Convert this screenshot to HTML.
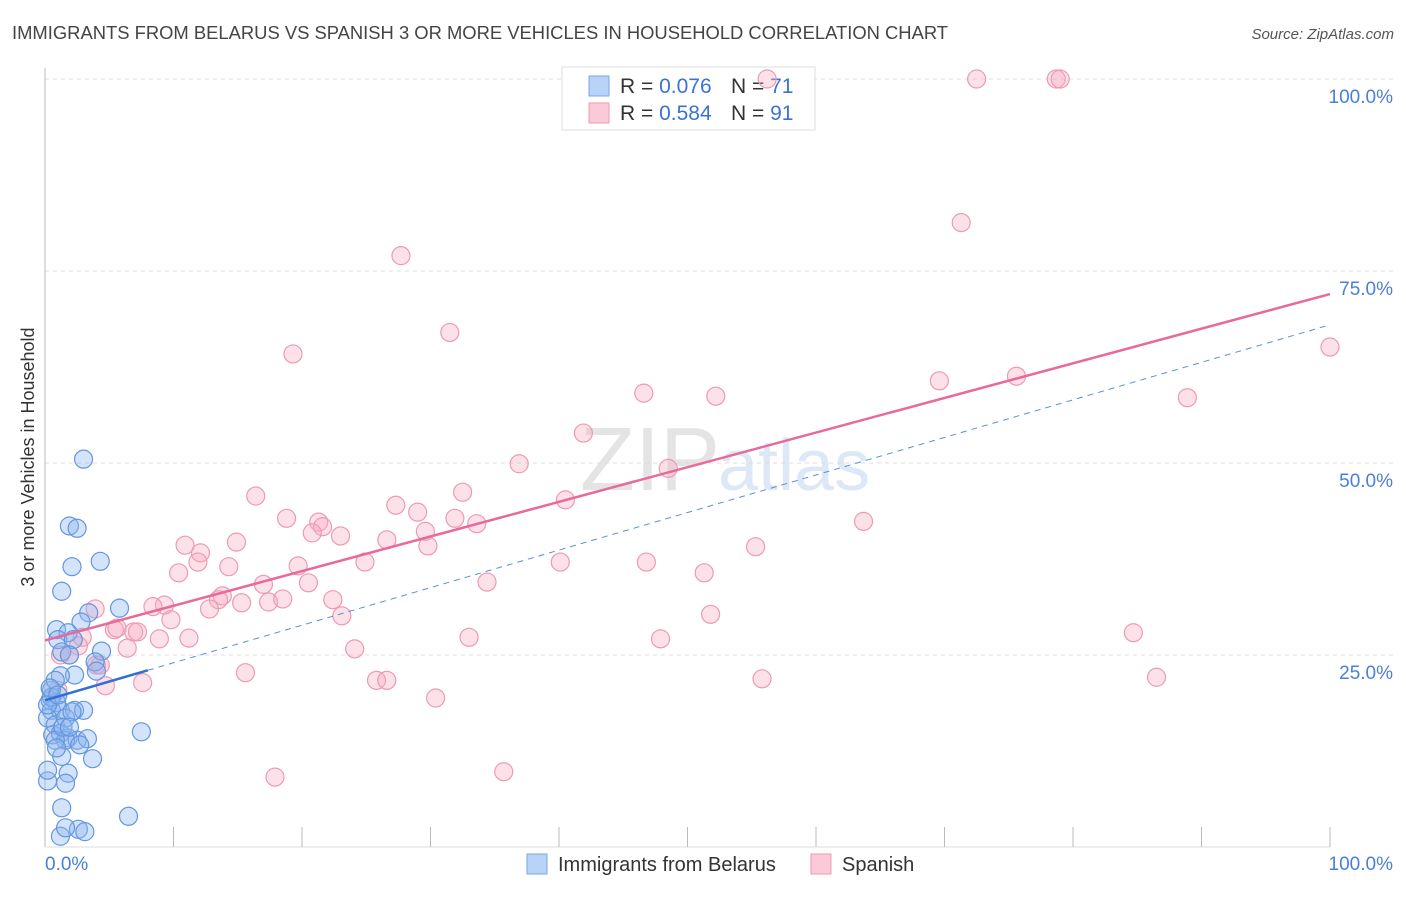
<!DOCTYPE html>
<html><head><meta charset="utf-8"><style>
body{margin:0;background:#fff;font-family:"Liberation Sans",sans-serif;}
svg text{font-family:"Liberation Sans",sans-serif;}
</style></head><body>
<svg id="chart" width="1406" height="892">
<text x="12" y="39" font-size="18.4" fill="#444">IMMIGRANTS FROM BELARUS VS SPANISH 3 OR MORE VEHICLES IN HOUSEHOLD CORRELATION CHART</text>
<text x="1394" y="39" font-size="15" fill="#555" font-style="italic" text-anchor="end">Source: ZipAtlas.com</text>
<text x="720" y="490" font-size="90" fill="#e4e4e4" text-anchor="end" font-family="Liberation Serif">ZIP</text>
<text x="718" y="490" font-size="72" fill="#dde8f6">atlas</text>
<g id="grid"></g>
<line x1="45" y1="68" x2="45" y2="847" stroke="#bbb"/>
<line x1="45" y1="847" x2="1330" y2="847" stroke="#ddd"/>
<g id="ticks"></g>
<text transform="translate(34,457) rotate(-90)" font-size="18" fill="#333" text-anchor="middle">3 or more Vehicles in Household</text>
<text x="45" y="870" font-size="19" fill="#4a7fd6">0.0%</text>
<text x="1393" y="870" font-size="19" fill="#4a7fd6" text-anchor="end">100.0%</text>
<g>
<rect x="562" y="67" width="253" height="63" fill="#fff" stroke="#ddd"/>
<rect x="589" y="76" width="20" height="20" fill="#b8d3f7" stroke="#7aa6e6"/>
<rect x="589" y="103" width="20" height="20" fill="#fbcad8" stroke="#ee9ab2"/>
<text x="620" y="93" font-size="21" fill="#333">R = <tspan fill="#3b73d1">0.076</tspan></text>
<text x="731" y="93" font-size="21" fill="#333">N = <tspan fill="#3b73d1">71</tspan></text>
<text x="620" y="120" font-size="21" fill="#333">R = <tspan fill="#3b73d1">0.584</tspan></text>
<text x="731" y="120" font-size="21" fill="#333">N = <tspan fill="#3b73d1">91</tspan></text>
</g>
<g id="marks"></g>
<g id="lines"></g>
<g>
<rect x="527" y="854" width="20" height="20" fill="#b8d3f7" stroke="#7aa6e6"/>
<text x="558" y="871" font-size="20" fill="#333">Immigrants from Belarus</text>
<rect x="811" y="854" width="20" height="20" fill="#fbcad8" stroke="#ee9ab2"/>
<text x="842" y="871" font-size="20" fill="#333">Spanish</text>
</g>
</svg>
<script>
const yTicks=[25,50,75,100];
const yTickLabels=["25.0%","50.0%","75.0%","100.0%"];
const xTicks=[10,20,30,40,50,60,70,80,90,100];
const blueX=[3.0,1.9,2.5,2.1,4.3,1.3,5.8,3.4,2.8,0.9,1.8,1.0,2.2,1.3,1.9,4.4,3.9,4.0,2.3,0.5,1.2,0.8,0.4,0.9,0.5,1.2,2.3,3.0,0.2,0.8,1.6,2.1,0.6,1.2,1.8,2.5,3.3,1.6,0.8,7.5,3.7,1.3,1.8,0.2,1.6,1.3,6.5,1.2,2.6,3.1,1.6,0.5,0.4,0.2,1.0,1.4,1.9,0.9,2.7,0.2];
const blueY=[50.5,41.8,41.5,36.5,37.2,33.3,31.1,30.5,29.3,28.3,27.9,27.0,27.0,25.4,25.0,25.5,24.1,22.9,22.4,20.4,22.3,21.7,19.1,18.8,17.8,17.8,17.8,17.8,16.8,15.9,16.8,17.6,14.6,14.8,14.2,13.9,14.1,13.9,13.9,15.0,11.5,11.8,9.6,8.6,8.3,5.1,4.0,1.4,2.3,2.0,2.5,19.5,20.7,18.5,19.8,15.6,15.6,12.9,13.3,10.0];
const pinkX=[56.2,72.5,78.7,79.0,71.3,27.7,31.5,19.3,100,46.6,52.2,69.6,75.6,88.9,41.9,36.9,48.5,16.4,32.5,40.5,18.8,27.3,29.0,31.9,33.6,21.3,21.6,20.8,23.0,26.6,29.6,29.8,10.9,14.9,12.1,11.9,63.7,55.3,10.4,14.3,19.7,24.9,40.1,46.8,51.3,17.0,20.5,34.4,13.8,13.5,12.8,15.3,17.4,18.5,22.4,9.3,8.4,3.9,9.8,23.1,51.8,5.4,6.9,7.2,5.6,8.9,11.2,33.0,47.9,84.7,2.9,2.6,6.4,1.9,4.0,15.6,24.1,4.7,7.6,25.8,26.6,55.8,86.5,30.4,17.9,35.7,1.2,1.0,4.3];
const pinkY=[100,100,100,100,81.3,77.0,67.0,64.2,65.1,59.1,58.7,60.7,61.3,58.5,53.9,49.9,49.3,45.7,46.2,45.2,42.8,44.5,43.6,42.8,42.1,42.3,41.7,40.9,40.5,40.0,41.1,39.2,39.3,39.7,38.3,37.1,42.4,39.1,35.7,36.5,36.6,37.1,37.1,37.1,35.7,34.2,34.4,34.5,32.7,32.2,31.0,31.8,31.9,32.3,32.2,31.5,31.3,31.0,29.6,30.1,30.3,28.3,28.0,28.0,28.5,27.1,27.2,27.3,27.1,27.9,27.3,26.2,25.9,25.0,23.7,22.7,25.8,21.0,21.4,21.7,21.7,21.9,22.1,19.4,9.1,9.8,25.0,20.4,23.7];
const pinkTrend=[26.9,72.0];
const blueTrend=[19.1,68.0];
const blueSolidEnd=8;
const NS="http://www.w3.org/2000/svg";
const sx=v=>45+v*12.85;
const sy=v=>847-v*7.68;
function mk(tag,attrs,parent){const e=document.createElementNS(NS,tag);for(const k in attrs)e.setAttribute(k,attrs[k]);parent.appendChild(e);return e;}
const grid=document.getElementById('grid'),ticks=document.getElementById('ticks'),marks=document.getElementById('marks'),lines=document.getElementById('lines');
yTicks.forEach((t,i)=>{
 const l=mk('line',{x1:45,x2:1395,y1:sy(t),y2:sy(t),stroke:'#ddd','stroke-dasharray':'4,4'},grid);
 
 
 const tx=mk('text',{x:1393,y:sy(t)+24,'font-size':19,fill:'#4a7fd6','text-anchor':'end'},grid);
 tx.textContent=yTickLabels[i];
 
 
});
xTicks.forEach(t=>{
 const l=mk('line',{x1:sx(t),x2:sx(t),y1:827,y2:847,stroke:'#bbb'},ticks);
 
 
});
pinkX.forEach((x,i)=>{
 const c=mk('circle',{cx:sx(x),cy:sy(pinkY[i]),r:9,fill:'rgba(248,170,192,0.35)',stroke:'#ec9ab2','stroke-width':1.2},marks);
 
 
});
blueX.forEach((x,i)=>{
 const c=mk('circle',{cx:sx(x),cy:sy(blueY[i]),r:9,fill:'rgba(140,182,240,0.38)',stroke:'#6496de','stroke-width':1.2},marks);
 
 
});
const bAt=x=>blueTrend[0]+(blueTrend[1]-blueTrend[0])*x/100;
let l=mk('line',{x1:sx(0),y1:sy(pinkTrend[0]),x2:sx(100),y2:sy(pinkTrend[1]),stroke:'#e8699a','stroke-width':2.5},lines);


l=mk('line',{x1:sx(blueSolidEnd),y1:sy(bAt(blueSolidEnd)),x2:sx(100),y2:sy(bAt(100)),stroke:'#5b8fd9','stroke-width':1,'stroke-dasharray':'6,5'},lines);


l=mk('line',{x1:sx(0),y1:sy(bAt(0)),x2:sx(blueSolidEnd),y2:sy(bAt(blueSolidEnd)),stroke:'#2f6fd6','stroke-width':2.5},lines);


</script>
</body></html>
